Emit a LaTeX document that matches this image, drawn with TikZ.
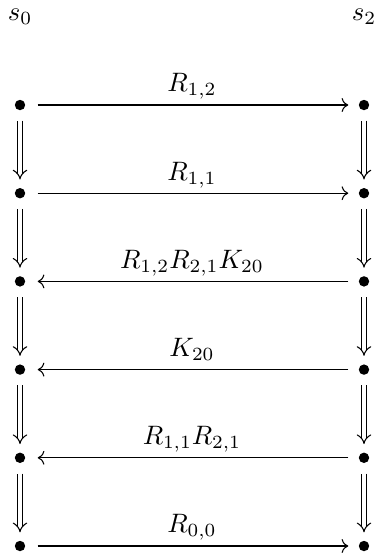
\documentclass[tikz,border=0pt]{standalone}
\usetikzlibrary{arrows.meta}
\begin{document}
\begin{tikzpicture}[x=0.375pt,y=-0.375pt,
  dot/.style={circle,fill,inner sep=0pt,minimum size=3.9pt},
  lr/.style={-{Computer Modern Rightarrow}, shorten <=4.5pt, shorten >=3.75pt},
  rl/.style={-{Computer Modern Rightarrow}, shorten <=3.75pt, shorten >=4.5pt},
  dn/.style={double,double distance=1.5pt,-{Implies},shorten <=3.75pt,shorten >=3pt},
  lab/.style={pos=0.5,anchor=base,yshift=4.9pt}]
\useasboundingbox (0,0) rectangle (375,555);
\node[anchor=base] (s0) at (20,20) {$s_0$};
\node[anchor=base] (s2) at (364,20) {$s_2$};
\foreach \i/\y in {1/105,2/193.2,3/281.4,4/369.6,5/457.8,6/546}{
  \node[dot] (l\i) at (20,\y) {};
  \node[dot] (r\i) at (364,\y) {};
}
\draw[lr] (l1) -- (r1) node[lab] {$R_{1,2}$};
\draw[lr] (l2) -- (r2) node[lab] {$R_{1,1}$};
\draw[rl] (r3) -- (l3) node[lab] {$R_{1,2}R_{2,1}K_{20}$};
\draw[rl] (r4) -- (l4) node[lab] {$K_{20}$};
\draw[rl] (r5) -- (l5) node[lab] {$R_{1,1}R_{2,1}$};
\draw[lr] (l6) -- (r6) node[lab] {$R_{0,0}$};
\foreach \i/\j in {1/2,2/3,3/4,4/5,5/6}{
  \draw[dn] (l\i) -- (l\j);
  \draw[dn] (r\i) -- (r\j);
}
\end{tikzpicture}
\end{document}
